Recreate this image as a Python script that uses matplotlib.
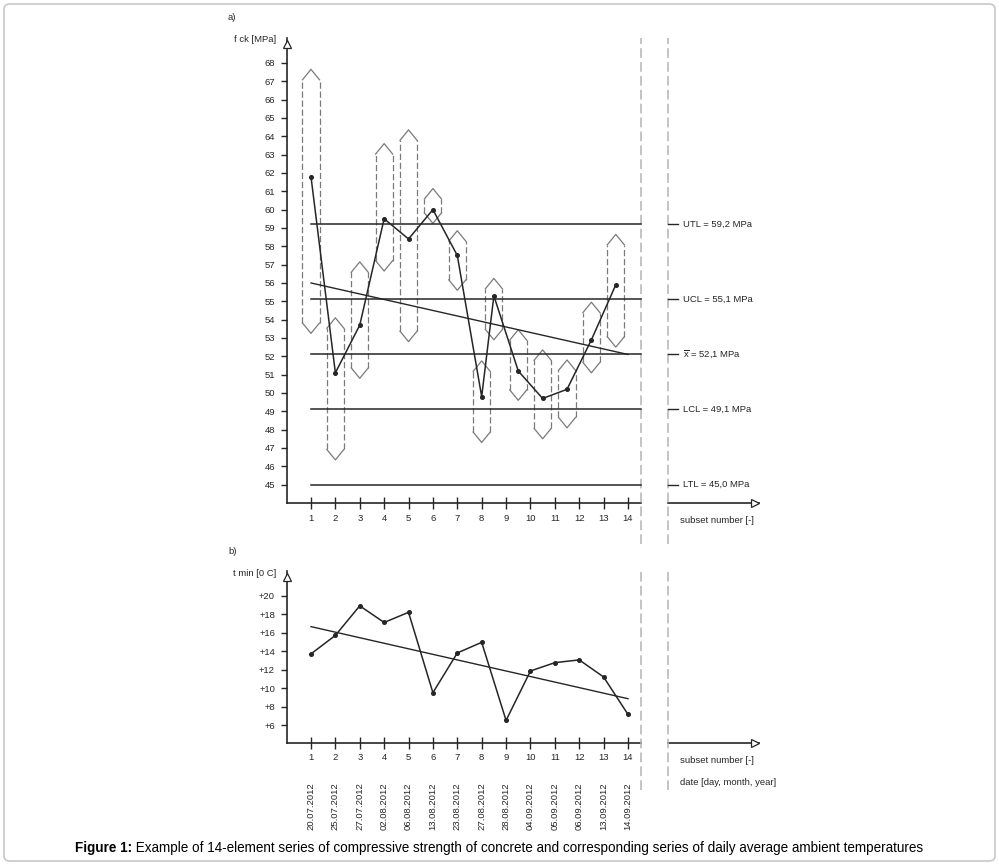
import matplotlib
matplotlib.use("Agg")
import matplotlib.pyplot as plt
from matplotlib.patches import FancyBboxPatch

plt.rcParams.update({
    'font.family': ['Liberation Sans', 'DejaVu Sans'],
    'mathtext.fontset': 'custom',
    'mathtext.rm': 'Liberation Sans',
    'lines.scale_dashes': False,
})

# ---- data ----
subsets = list(range(1, 15))
# compressive strength points (x positions drift in the original drawing)
fck_x = [1, 2, 3, 4, 5, 6, 7, 8, 8.5, 9.5, 10.5, 11.5, 12.5, 13.5]
fck = [61.8, 51.1, 53.7, 59.5, 58.4, 60.0, 57.5, 49.8, 55.3, 51.2, 49.7, 50.2, 52.9, 55.9]
hex_top = [67.65, 54.1, 57.15, 63.6, 64.35, 61.15, 58.85, 51.75, 56.25, 53.45, 52.35, 51.8, 54.95, 58.65]
hex_bot = [53.25, 46.35, 50.8, 56.65, 52.8, 59.25, 55.6, 47.3, 52.9, 49.6, 47.5, 48.1, 51.1, 52.5]
fck_trend = [56.0, 52.1]

limit_names = ['UTL', 'UCL', 'mean', 'LCL', 'LTL']
limit_vals = [59.2, 55.1, 52.1, 49.1, 45.0]
limit_labels = ['UTL = 59,2 MPa', 'UCL = 55,1 MPa', r'$\overline{\mathrm{x}}$ = 52,1 MPa',
                'LCL = 49,1 MPa', 'LTL = 45,0 MPa']

tmin = [13.7, 15.7, 18.9, 17.1, 18.2, 9.5, 13.8, 14.95, 6.5, 11.85, 12.75, 13.05, 11.2, 7.15]
tmin_trend = [16.65, 8.85]
dates = ['20.07.2012', '25.07.2012', '27.07.2012', '02.08.2012', '06.08.2012', '13.08.2012',
         '23.08.2012', '27.08.2012', '28.08.2012', '04.09.2012', '05.09.2012', '06.09.2012',
         '13.09.2012', '14.09.2012']

W, H = 999, 864
fig = plt.figure(figsize=(W / 100, H / 100), dpi=100)

INK = '#262626'
GRAY = '#7a7a7a'
LGRAY = '#b4b4b4'
fs = 6.8

# pixel geometry
x0_px, xend_px, step_px = 286.6, 760, 24.385
xmax = (xend_px - x0_px) / step_px
xdash1 = (641 - x0_px) / step_px
xdash2 = (668 - x0_px) / step_px
xlab = (683 - x0_px) / step_px
xtxt = (680 - x0_px) / step_px


def style_axes(ax):
    for s in ['top', 'right', 'bottom']:
        ax.spines[s].set_visible(False)
    ax.spines['left'].set_linewidth(1.2)
    ax.spines['left'].set_color(INK)
    ax.set_xlim(0, xmax)
    ax.tick_params(axis='y', direction='out', length=4.3, width=1.0, colors=INK,
                   labelsize=fs, pad=4)
    ax.tick_params(axis='x', direction='inout', length=8.6, width=1.0, colors=INK,
                   labelsize=fs, pad=3.5)
    ax.set_xticks(subsets)
    ax.set_xticklabels([str(s) for s in subsets])
    ax.patch.set_alpha(0)


def axis_decor(ax, ybase, ytop, dash_lo, dash_hi):
    # broken horizontal axis with open arrow head
    ax.plot([0, xdash1], [ybase, ybase], color=INK, lw=1.2, clip_on=False)
    ax.plot([xdash2, xmax - 0.05], [ybase, ybase], color=INK, lw=1.2, clip_on=False)
    ax.plot([xmax - 0.2], [ybase], marker='>', ms=6, mfc='white', mec=INK, mew=0.9,
            clip_on=False, zorder=5)
    # open arrow on vertical axis
    ax.plot([0], [ytop], marker='^', ms=6, mfc='white', mec=INK, mew=0.9,
            clip_on=False, zorder=5)
    # dashed separators
    for xd in (xdash1, xdash2):
        ax.plot([xd, xd], [dash_lo, dash_hi], color=LGRAY, lw=1.1,
                linestyle=(0, (7, 3)), clip_on=False)


# ---------------- a) compressive strength ----------------
ylo1, yhi1 = 44.0, 69.36
ax1 = fig.add_axes([x0_px / W, 1 - 503 / H, (xend_px - x0_px) / W, (503 - 38) / H])
style_axes(ax1)
ax1.set_ylim(ylo1, yhi1)
ax1.set_yticks(range(45, 69))
axis_decor(ax1, ylo1, yhi1 - 0.35, 41.75, yhi1)

# hexagons
hw, tip = 0.35, 0.57
for xc, t, b in zip(fck_x, hex_top, hex_bot):
    ax1.plot([xc - hw, xc, xc + hw], [t - tip, t, t - tip], color=GRAY, lw=0.9)
    ax1.plot([xc - hw, xc, xc + hw], [b + tip, b, b + tip], color=GRAY, lw=0.9)
    for xs in (xc - hw, xc + hw):
        ax1.plot([xs, xs], [b + tip, t - tip], color=GRAY, lw=0.9, linestyle=(0, (4.5, 2)))

# control / tolerance lines
for v, lab in zip(limit_vals, limit_labels):
    ax1.plot([1, xdash1], [v, v], color=INK, lw=1.1)
    ax1.plot([xdash2, xdash2 + 10 / step_px], [v, v], color=INK, lw=1.0, clip_on=False)
    ax1.text(xlab, v, lab, fontsize=fs, color=INK, va='center', ha='left', clip_on=False)

ax1.plot([1, 14], fck_trend, color=INK, lw=1.0)
ax1.plot(fck_x, fck, color=INK, lw=1.1, marker='o', ms=2.6)
ax1.text(xtxt, 43.04, 'subset number [-]', fontsize=fs, color=INK, va='center', ha='left')

# ---------------- b) minimum temperature ----------------
ylo2, yhi2 = 4.11, 22.67
ax2 = fig.add_axes([x0_px / W, 1 - 742.5 / H, (xend_px - x0_px) / W, (742.5 - 571) / H])
style_axes(ax2)
ax2.set_ylim(ylo2, yhi2)
ax2.set_yticks(range(6, 21, 2))
ax2.set_yticklabels(['+%d' % v for v in range(6, 21, 2)])
axis_decor(ax2, ylo2, yhi2 - 0.7, -1.05, 22.67)

ax2.plot([1, 14], tmin_trend, color=INK, lw=1.0)
ax2.plot(subsets, tmin, color=INK, lw=1.1, marker='o', ms=2.6)
ax2.text(xtxt, 2.11, 'subset number [-]', fontsize=fs, color=INK, va='center', ha='left')
ax2.text(xtxt, -0.27, 'date [day, month, year]', fontsize=fs, color=INK, va='center', ha='left')
for s, d in zip(subsets, dates):
    ax2.text(s, -2.76, d, rotation=90, fontsize=fs, color=INK, ha='center', va='center',
             clip_on=False)

# panel labels
fig.text(228 / W, 1 - 18 / H, 'a)', fontsize=fs, color=INK, va='center', ha='left')
fig.text(228 / W, 1 - 552 / H, 'b)', fontsize=fs, color=INK, va='center', ha='left')
fig.text(276 / W, 1 - 40 / H, 'f ck [MPa]', fontsize=fs, color=INK, va='center', ha='right')
fig.text(276 / W, 1 - 573 / H, 't min [0 C]', fontsize=fs, color=INK, va='center', ha='right')

# caption
cap_fs = 9.75
t1 = fig.text(75 / W, 1 - 848 / H, 'Figure 1:', fontsize=cap_fs, fontweight='bold',
              color='black', va='center', ha='left')
caption = (' Example of 14-element series of compressive strength of concrete and '
           'corresponding series of daily average ambient temperatures')
fig.add_artist(plt.Annotation(caption, xy=(1, 0), xycoords=t1, va='bottom',
                              ha='left', fontsize=cap_fs, color='black'))

# outer frame
frame = FancyBboxPatch((4 / W, 1 - 861 / H), 991 / W, 857 / H,
                       boxstyle='round,pad=0,rounding_size=0.006',
                       transform=fig.transFigure, facecolor='none',
                       edgecolor='#c8c8c8', lw=1.2)
fig.add_artist(frame)

fig.savefig('out.png', dpi=100)
